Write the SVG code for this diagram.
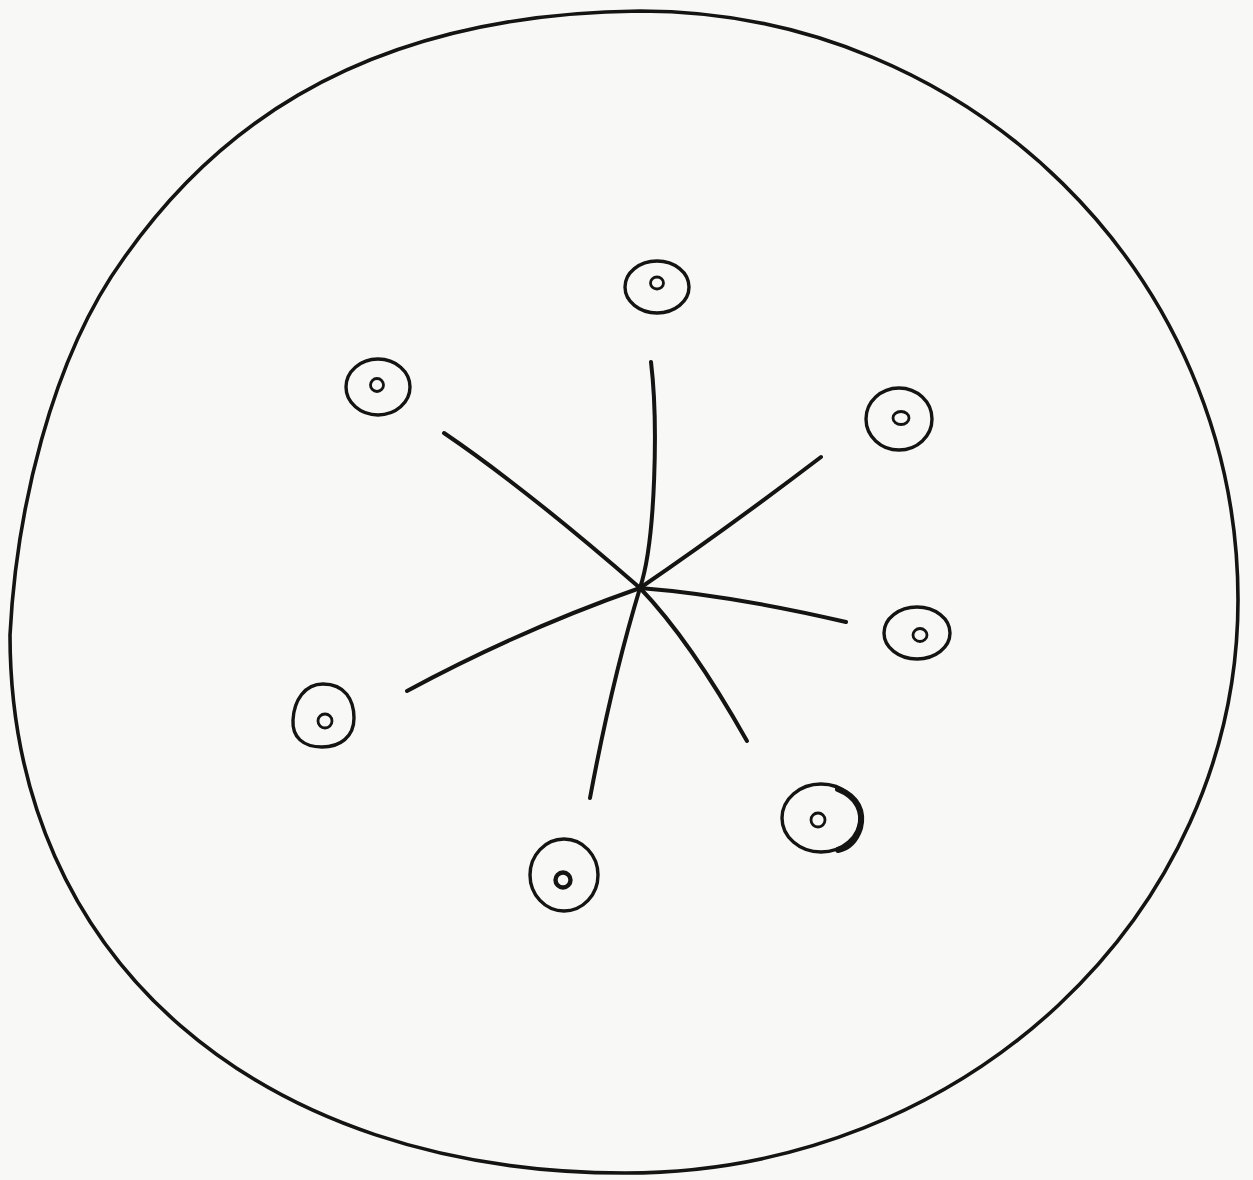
<svg xmlns="http://www.w3.org/2000/svg" width="1253" height="1180" viewBox="0 0 1253 1180">
<style>
.ink{fill:none;stroke:#141414;stroke-linecap:round;stroke-linejoin:round}
.rim{stroke-width:3.6}
.outer{stroke-width:3.4}
.inner{stroke-width:2.8}
.ray{stroke-width:4}
</style>
<rect x="0" y="0" width="1253" height="1180" fill="#f8f8f6"/>
<g id="rim">
<path class="ink rim" d="M640,11 C970,11 1238,275 1238,600 C1238,916 964,1173 625,1173 C260,1173 10,960 10,635 C16,515 50,360 124,258 C200,150 340,14 640,11 Z"/>
</g>
<g id="connectors">
<path class="ink ray" d="M651,362 C658,420 656,540 640,588"/>
<path class="ink ray" d="M444,433 Q525,488 640,588"/>
<path class="ink ray" d="M640,588 Q725,530 821,457"/>
<path class="ink ray" d="M640,588 Q730,595 846,622"/>
<path class="ink ray" d="M640,588 Q690,640 747,741"/>
<path class="ink ray" d="M640,588 Q612,680 590,798"/>
<path class="ink ray" d="M640,588 Q520,630 407,691"/>
</g>
<g id="node-top">
<ellipse class="ink outer" cx="657" cy="287" rx="32" ry="26"/>
<ellipse class="ink inner" cx="657" cy="283" rx="6.5" ry="6"/>
</g>
<g id="node-upper-left">
<ellipse class="ink outer" cx="378" cy="387" rx="32" ry="28"/>
<ellipse class="ink inner" cx="377" cy="385" rx="6.5" ry="6.5"/>
</g>
<g id="node-upper-right">
<ellipse class="ink outer" cx="899" cy="419" rx="33" ry="31"/>
<ellipse class="ink inner" cx="901" cy="418" rx="8" ry="6.5"/>
</g>
<g id="node-right">
<ellipse class="ink outer" cx="917" cy="633" rx="33" ry="26"/>
<ellipse class="ink inner" cx="920" cy="635" rx="7" ry="6.5"/>
</g>
<g id="node-left">
<path class="ink outer" d="M323,684 C345,684 354,700 354,718 C354,737 340,747 322,747 C303,747 292,737 293,720 C294,700 305,684 323,684 Z"/>
<ellipse class="ink inner" cx="325" cy="721" rx="7" ry="7"/>
</g>
<g id="node-lower-right">
<ellipse class="ink outer" cx="821" cy="818" rx="39" ry="34"/>
<path class="ink" stroke-width="6" d="M838,789 C858,797 864,812 860,828 C856,840 848,848 838,850"/>
<ellipse class="ink inner" cx="818" cy="820" rx="7" ry="7"/>
</g>
<g id="node-bottom">
<ellipse class="ink outer" cx="564" cy="875" rx="34" ry="36" stroke-width="3.8"/>
<ellipse class="ink" stroke-width="4.4" cx="563" cy="880" rx="7.5" ry="7.5"/>
</g>
</svg>
